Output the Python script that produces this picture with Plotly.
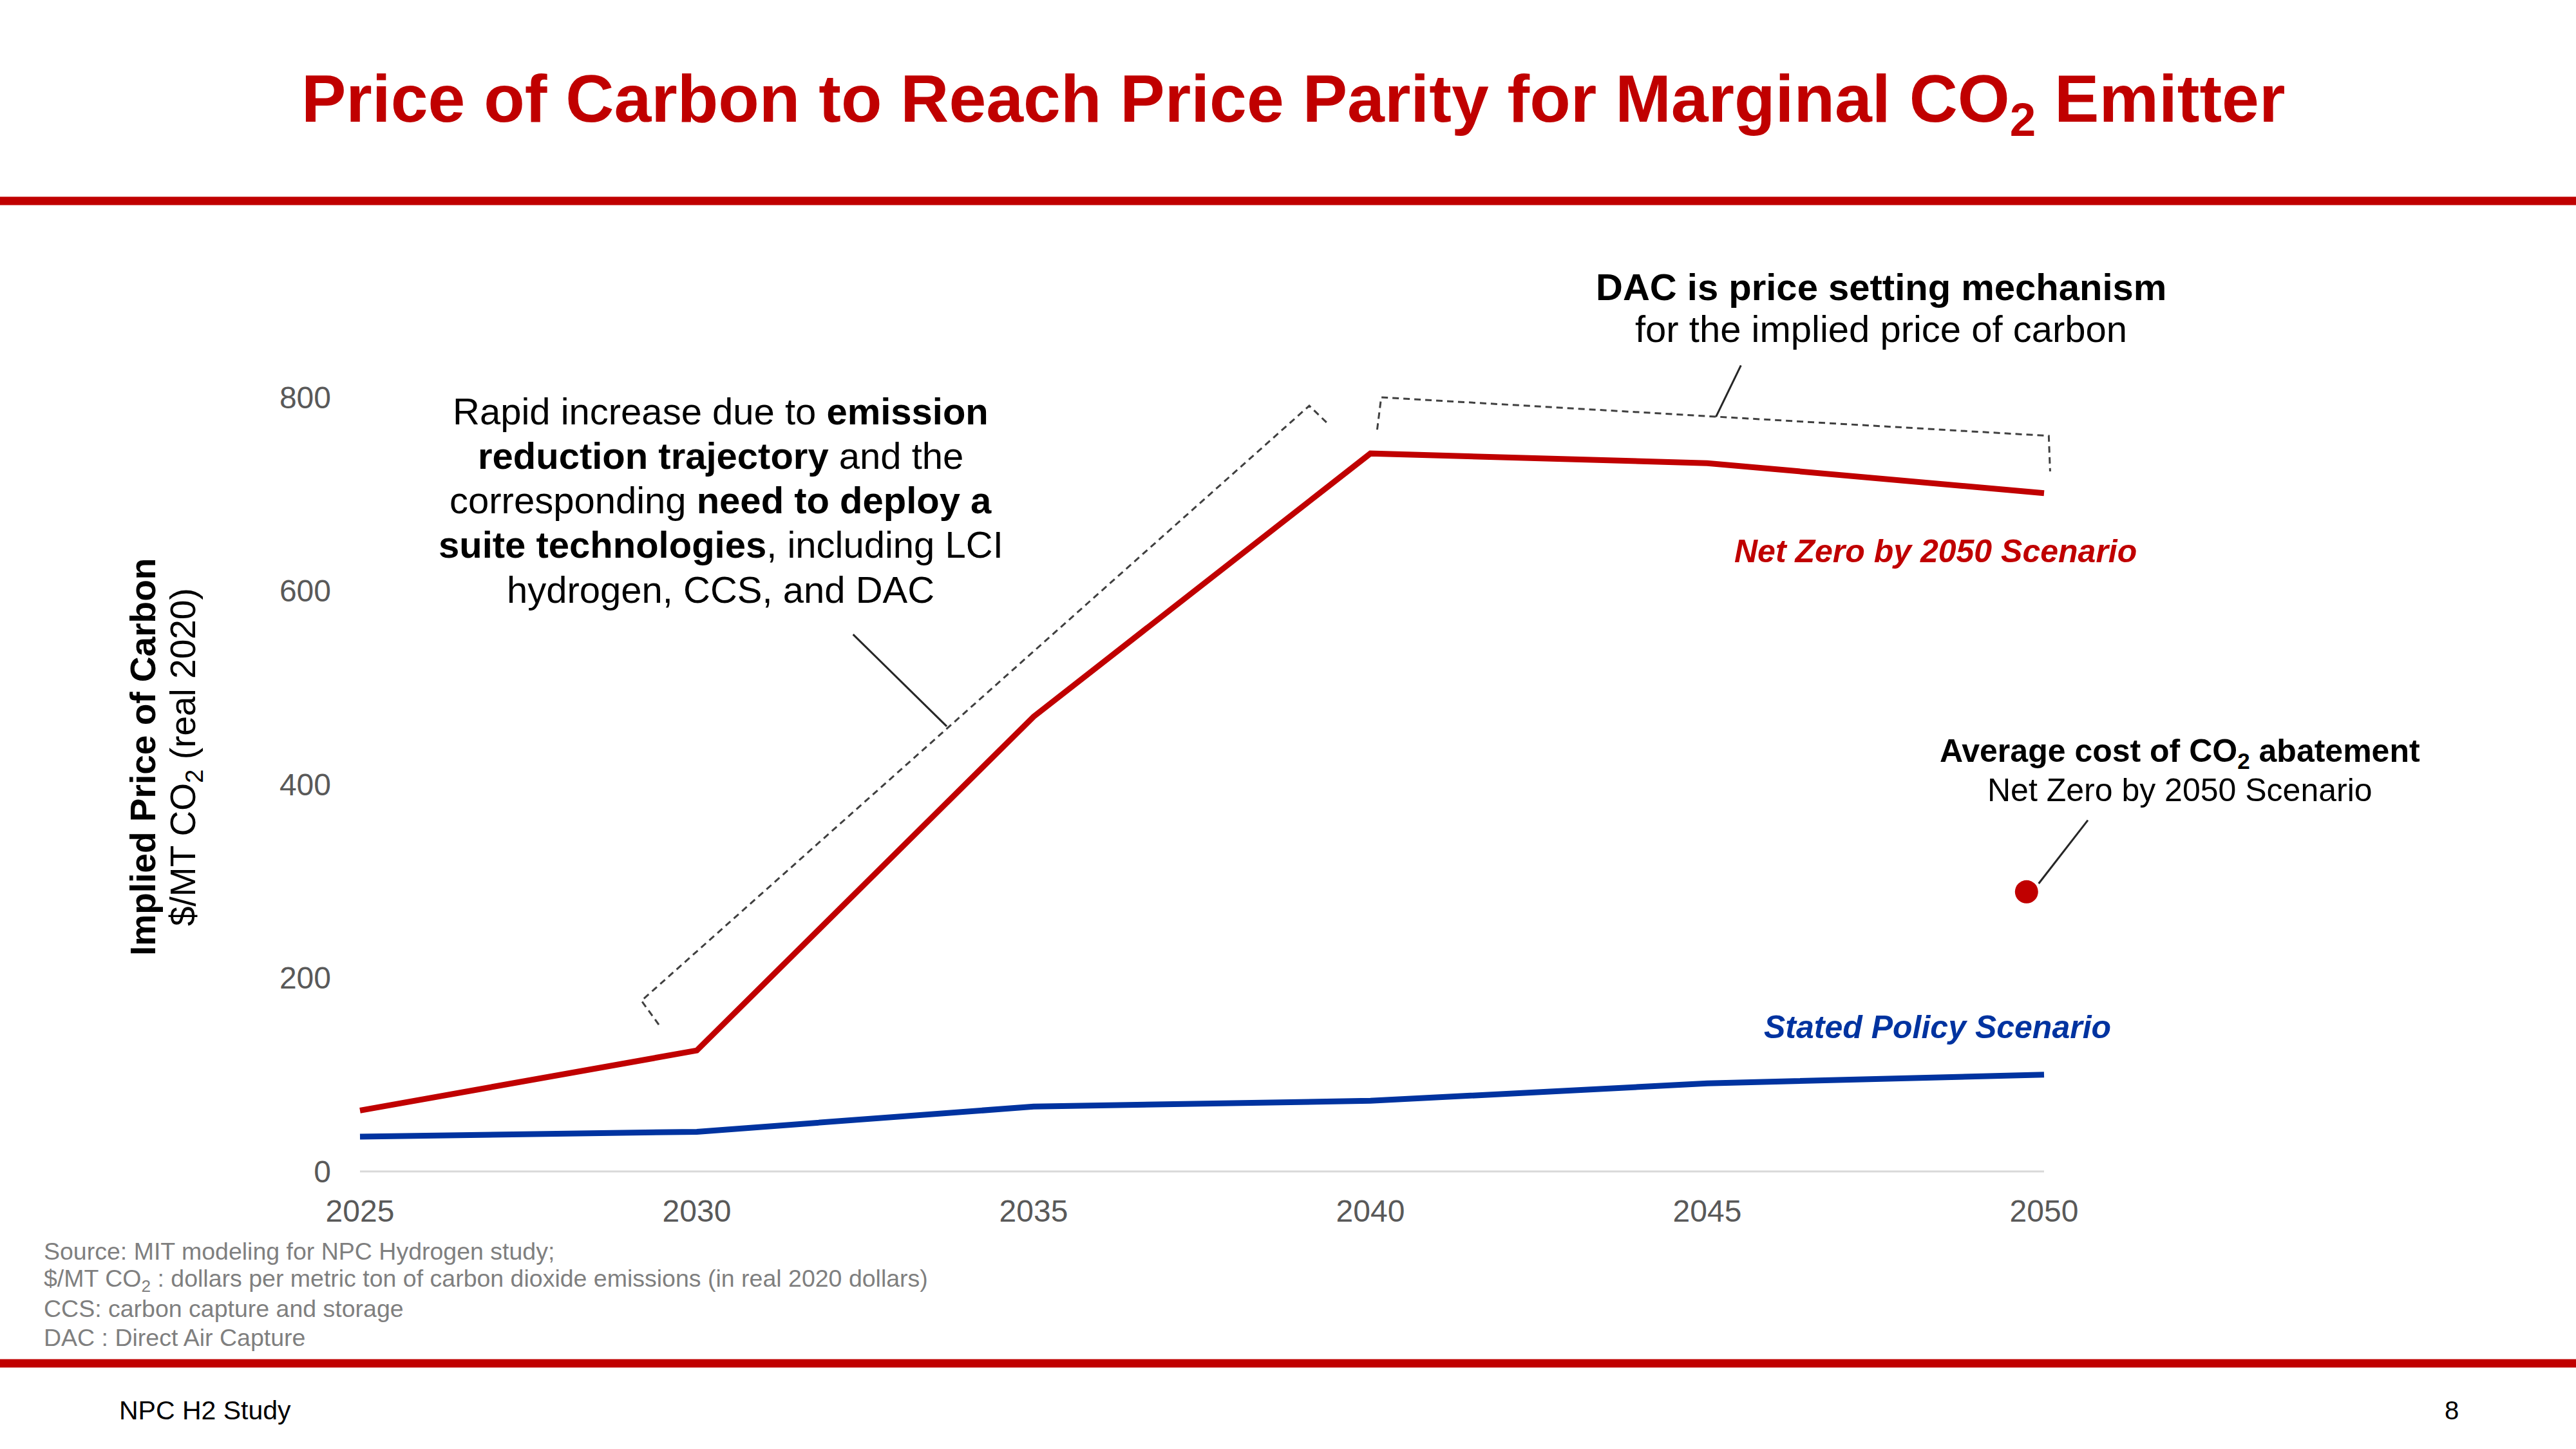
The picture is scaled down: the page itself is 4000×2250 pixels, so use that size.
import plotly.graph_objects as go

W, H = 4000, 2250
FONT = "Liberation Sans, Arial, sans-serif"
RED = "#C00000"
BLUE = "#0033A0"

# ---- data ----
years = [2025, 2030, 2035, 2040, 2045, 2050]
net_zero = [63, 125, 470, 742, 732, 701]
stated_policy = [36, 41, 67, 73, 91, 100]
avg_cost_year = [2049.74]
avg_cost_value = [289]
y_ticks = [0, 200, 400, 600, 800]
x_ticks = [2025, 2030, 2035, 2040, 2045, 2050]

# ---- layout geometry (pixel mapping) ----
X_RANGE = [2020, 2056]
Y_RANGE = [-50, 950]
px_per_year = (3174 - 559) / 25
px_per_unit = (1819 - 617) / 800
x0_px = 559 - (2025 - X_RANGE[0]) * px_per_year
x1_px = 3174 + (X_RANGE[1] - 2050) * px_per_year
y0_px = 1819 + (0 - Y_RANGE[0]) * px_per_unit
y1_px = 1819 - Y_RANGE[1] * px_per_unit

fig = go.Figure()

fig.add_trace(go.Scatter(x=years, y=stated_policy, mode="lines",
                         line=dict(color=BLUE, width=9), hoverinfo="skip", showlegend=False))
fig.add_trace(go.Scatter(x=years, y=net_zero, mode="lines",
                         line=dict(color=RED, width=9), hoverinfo="skip", showlegend=False))
fig.add_trace(go.Scatter(x=avg_cost_year, y=avg_cost_value, mode="markers",
                         marker=dict(color=RED, size=36), hoverinfo="skip", showlegend=False))

shapes = []
# baseline
shapes.append(dict(type="line", xref="x", yref="y", x0=2025, x1=2050, y0=0, y1=0,
                   line=dict(color="#D9D9D9", width=3), layer="below"))
# dashed brackets
dash_line = dict(color="#404040", width=3, dash="10px,7px")
shapes.append(dict(type="path", xref="x", yref="y",
                   path="M 2029.436 151.7 L 2029.178 176.4 L 2039.092 791.3 L 2039.388 771.4",
                   line=dash_line))
shapes.append(dict(type="path", xref="x", yref="y",
                   path="M 2040.10 766.6 L 2040.16 800.0 L 2050.07 760.2 L 2050.09 723.5",
                   line=dash_line))
# leader lines
lead = dict(color="#262626", width=3)
shapes.append(dict(type="line", xref="x", yref="y", x0=2032.32, y0=555, x1=2033.71, y1=460, line=lead))
shapes.append(dict(type="line", xref="x", yref="y", x0=2045.50, y0=833, x1=2045.13, y1=780, line=lead))
shapes.append(dict(type="line", xref="x", yref="y", x0=2050.65, y0=363, x1=2049.92, y1=297.5, line=lead))
# red rules
for yc in (312, 2117):
    yy = 1 - yc / H
    shapes.append(dict(type="line", xref="paper", yref="paper", x0=0, x1=1, y0=yy, y1=yy,
                       line=dict(color=RED, width=13)))

anns = []


def ann(text, px, py, size, color="#000000", xanchor="center", angle=0):
    anns.append(dict(text=text, x=px / W, y=1 - py / H, xref="paper", yref="paper",
                     xanchor=xanchor, yanchor="middle", showarrow=False, textangle=angle,
                     font=dict(family=FONT, size=size, color=color)))


# title
ann("<b>Price of Carbon to Reach Price Parity for Marginal CO<sub>2</sub> Emitter</b>",
    2008, 160, 104, RED)

# y-axis title
ann("<b>Implied Price of Carbon</b>", 222, 1176, 55, angle=-90)
ann("$/MT CO<sub>2</sub> (real 2020)", 288, 1176, 55, angle=-90)

# rapid increase annotation
rapid_lines = [
    "Rapid increase due to <b>emission</b>",
    "<b>reduction trajectory</b> and the",
    "corresponding <b>need to deploy a</b>",
    "<b>suite technologies</b>, including LCI",
    "hydrogen, CCS, and DAC",
]
for i, t in enumerate(rapid_lines):
    ann(t, 1119, 638 + i * 69.3, 58)

# DAC annotation
ann("<b>DAC is price setting mechanism</b>", 2921, 445, 58)
ann("for the implied price of carbon", 2921, 510, 58)

# series labels
ann("<b><i>Net Zero by 2050 Scenario</i></b>", 3005, 856, 50, RED)
ann("<b><i>Stated Policy Scenario</i></b>", 3008, 1595, 50, BLUE)

# avg cost annotation
ann("<b>Average cost of CO<sub>2</sub> abatement</b>", 3385, 1169, 50)
ann("Net Zero by 2050 Scenario", 3385, 1227, 50)

# footnotes
foot = [
    "Source: MIT modeling for NPC Hydrogen study;",
    "$/MT CO<sub>2</sub> : dollars per metric ton of carbon dioxide emissions (in real 2020 dollars)",
    "CCS: carbon capture and storage",
    "DAC : Direct Air Capture",
]
for i, t in enumerate(foot):
    ann(t, 66, 1943 + i * 44.7, 37.5, "#7F7F7F", xanchor="left")

# footer
ann("NPC H2 Study", 183, 2190, 41, xanchor="left")
ann("8", 3807, 2190, 40)

fig.update_layout(
    width=W, height=H,
    margin=dict(l=0, r=0, t=0, b=0),
    paper_bgcolor="white", plot_bgcolor="rgba(0,0,0,0)",
    shapes=shapes, annotations=anns, showlegend=False,
    xaxis=dict(range=X_RANGE, domain=[x0_px / W, x1_px / W], anchor="free",
               position=1 - 1819 / H, tickvals=x_ticks, ticktext=[str(v) for v in x_ticks],
               showgrid=False, zeroline=False, showline=False, ticks="",
               ticklabelstandoff=29,
               tickfont=dict(family=FONT, size=48, color="#595959")),
    yaxis=dict(range=Y_RANGE, domain=[1 - y0_px / H, 1 - y1_px / H], anchor="free",
               position=559 / W, tickvals=y_ticks, showgrid=False, zeroline=False,
               showline=False, ticks="", ticklabelstandoff=45,
               tickfont=dict(family=FONT, size=48, color="#595959")),
)

fig.write_html(
    "out.html",
    config={"displayModeBar": False},
    post_script="document.body.style.margin='0px';document.body.style.overflow='hidden';",
)
